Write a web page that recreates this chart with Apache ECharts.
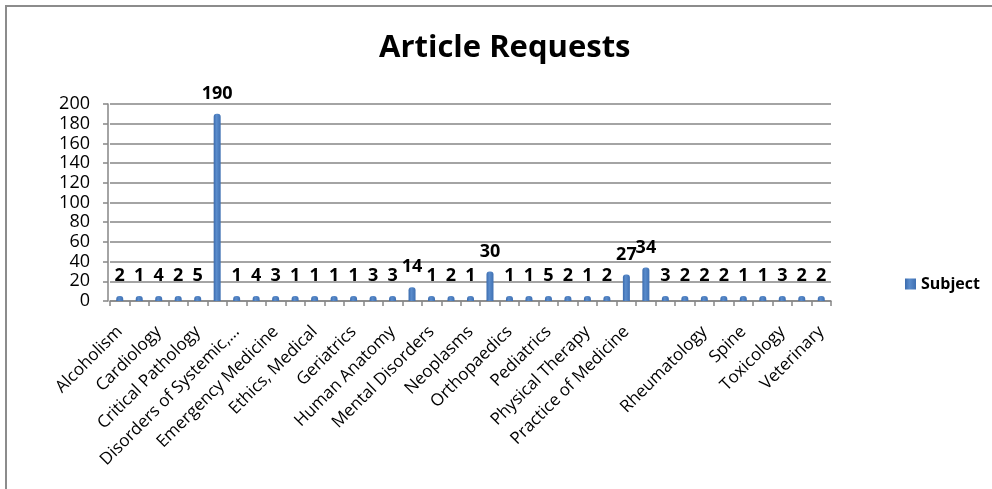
<!DOCTYPE html>
<html>
<head>
<meta charset="utf-8">
<script src="https://cdn.jsdelivr.net/npm/echarts@6/dist/echarts.min.js"></script>
<style>html,body{margin:0;padding:0;background:#fff;}#c{width:992px;height:489px;}</style>
</head>
<body>
<div id="c"></div>
<script>
const categories = ["Alcoholism","Anesthesiology","Cardiology","Complementary Therapies","Critical Pathology","Dermatology","Disorders of Systemic,…","Education, Medical","Emergency Medicine","Endocrinology","Ethics, Medical","Gastroenterology","Geriatrics","Hematology","Human Anatomy","Internal Medicine","Mental Disorders","Microbiology","Neoplasms","Neurology","Orthopaedics","Otolaryngology","Pediatrics","Pharmacology","Physical Therapy","Physiology","Practice of Medicine","Psychiatry","Public Health","Radiology","Rheumatology","Sleep Medicine","Spine","Surgery","Toxicology","Urology","Veterinary"];
const subjectValues = [2,1,4,2,5,190,1,4,3,1,1,1,1,3,3,14,1,2,1,30,1,1,5,2,1,2,27,34,3,2,2,2,1,1,3,2,2];
const yTicks = {min: 0, max: 200, interval: 20};
const hiddenLabelIndex = 28;

const chart = echarts.init(document.getElementById('c'), null, {renderer: 'canvas'});
const FONT = 'Open Sans';
chart.setOption({
  backgroundColor: '#ffffff',
  animation: false,
  graphic: [{
    type: 'rect', silent: true, z: -10,
    shape: {x: 6, y: 6, width: 1100, height: 600},
    style: {fill: 'none', stroke: '#8c8c8c', lineWidth: 2}
  }],
  title: {
    text: 'Article Requests',
    left: 374, top: 28,
    textStyle: {fontFamily: FONT, fontWeight: 'bold', fontSize: 31, color: '#000'}
  },
  legend: {
    data: ['Subject'],
    left: 900, top: 271,
    itemWidth: 11, itemHeight: 11, itemGap: 6,
    icon: 'rect',
    textStyle: {fontFamily: FONT, fontWeight: 'bold', fontSize: 16, color: '#000'}
  },
  grid: {left: 110, right: 161, top: 104, bottom: 188, containLabel: false},
  xAxis: {
    type: 'category',
    data: categories,
    offset: 6,
    axisLine: {lineStyle: {color: '#868686', width: 1.5}},
    axisTick: {show: true, interval: 0, length: 5, lineStyle: {color: '#868686', width: 1.5}},
    axisLabel: {
      rotate: 45, margin: 22,
      interval: (i) => i % 2 === 0 && i !== hiddenLabelIndex,
      fontFamily: FONT, fontSize: 17, color: '#000'
    },
    splitLine: {show: false}
  },
  yAxis: {
    type: 'value',
    min: yTicks.min, max: yTicks.max, interval: yTicks.interval,
    offset: 2,
    axisLine: {show: true, lineStyle: {color: '#868686', width: 1.5}},
    axisTick: {show: true, length: 5, lineStyle: {color: '#868686', width: 1.5}},
    axisLabel: {margin: 18, fontFamily: FONT, fontSize: 18, color: '#000', padding: [10, 0, 0, 0]},
    splitLine: {lineStyle: {color: '#868686', width: 1.5}}
  },
  series: [{
    name: 'Subject',
    type: 'bar',
    data: subjectValues,
    barWidth: 7,
    barMinHeight: 5,
    itemStyle: {
      color: new echarts.graphic.LinearGradient(0, 0, 1, 0, [
        {offset: 0, color: '#3b6bad'},
        {offset: 0.4, color: '#5a8ccc'},
        {offset: 1, color: '#3f70b2'}
      ]),
      borderRadius: [3, 3, 0, 0]
    },
    label: {
      show: true, position: 'top', distance: 11,
      fontFamily: FONT, fontWeight: 'bold', fontSize: 18, color: '#000'
    }
  }]
});
</script>
</body>
</html>
